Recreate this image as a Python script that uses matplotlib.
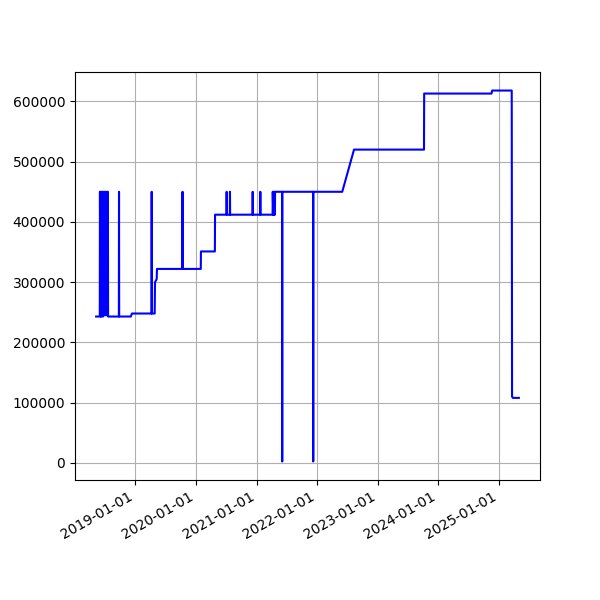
import matplotlib
matplotlib.use("Agg")
import matplotlib.pyplot as plt
import matplotlib.dates as mdates
import pandas as pd

# price history (date, value)
dates = [
    "2018-05-10", "2018-06-01", "2018-06-02", "2018-06-05", "2018-06-07",
    "2018-06-10", "2018-06-12", "2018-06-16", "2018-06-17", "2018-06-21",
    "2018-06-22", "2018-06-27", "2018-06-30", "2018-07-05", "2018-07-08",
    "2018-07-13", "2018-07-15", "2018-07-20", "2018-07-21", "2018-09-24",
    "2018-09-25", "2018-09-26", "2018-12-05", "2018-12-12", "2019-04-09",
    "2019-04-10", "2019-04-11", "2019-04-28", "2019-04-30", "2019-05-10",
    "2019-05-12", "2019-10-12", "2019-10-13", "2019-10-14", "2020-01-31",
    "2020-02-01", "2020-04-25", "2020-04-26", "2020-07-04", "2020-07-05",
    "2020-07-06", "2020-07-24", "2020-07-25", "2020-07-26", "2020-12-08",
    "2020-12-09", "2020-12-10", "2021-01-23", "2021-01-24", "2021-01-25",
    "2021-04-08", "2021-04-09", "2021-04-12", "2021-04-14", "2021-04-17",
    "2021-04-19", "2021-04-22", "2021-04-23", "2021-06-04", "2021-06-05",
    "2021-06-06", "2021-12-08", "2021-12-09", "2021-12-10", "2022-06-02",
    "2022-08-12", "2023-10-08", "2023-10-09", "2024-11-18", "2024-11-22",
    "2025-03-20", "2025-03-22", "2025-03-27", "2025-05-02",
]
values = [
    243000, 243000, 450000, 243000, 450000,
    243000, 450000, 450000, 243000, 243000,
    450000, 245000, 450000, 245000, 450000,
    245000, 450000, 450000, 243000, 243000,
    450000, 243000, 243000, 248000, 248000,
    450000, 248000, 248000, 300000, 305000,
    322000, 322000, 450000, 322000, 322000,
    351000, 351000, 412000, 412000, 450000,
    412000, 412000, 450000, 412000, 412000,
    450000, 412000, 412000, 450000, 412000,
    412000, 450000, 412000, 450000, 412000,
    450000, 412000, 450000, 450000, 2500,
    450000, 450000, 2500, 450000, 450000,
    520000, 520000, 613000, 613000, 618000,
    618000, 110000, 108000, 108000,
]

df = pd.DataFrame({"date": pd.to_datetime(dates), "value": values})

fig, ax = plt.subplots(figsize=(6, 6), dpi=100)
ax.plot(df["date"], df["value"], "b-")
ax.xaxis.set_major_locator(mdates.YearLocator())
ax.xaxis.set_major_formatter(mdates.DateFormatter("%Y-%m-%d"))
ax.grid(True)
fig.autofmt_xdate()

plt.savefig("out.png")
